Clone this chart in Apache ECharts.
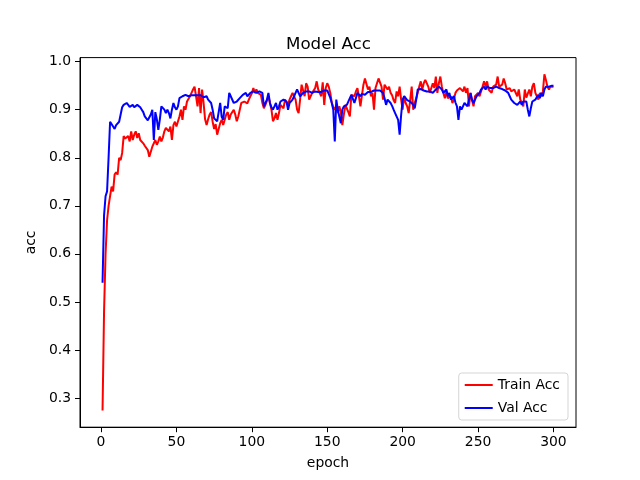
<!DOCTYPE html>
<html>
<head>
<meta charset="utf-8">
<script src="https://cdn.jsdelivr.net/npm/echarts@6/dist/echarts.min.js"></script>
<style>html,body{margin:0;padding:0;background:#fff}#c{width:640px;height:480px}</style>
</head>
<body>
<div id="c"></div>
<script>
var trainAcc = [
0.274,0.48,0.60,0.67,0.70,0.72,0.74,0.73,0.765,0.77,
0.765,0.80,0.795,0.81,0.845,0.84,0.837,0.845,0.834,0.855,
0.837,0.848,0.855,0.841,0.851,0.837,0.84,0.83,0.825,0.822,
0.816,0.802,0.806,0.823,0.827,0.837,0.827,0.834,0.844,0.834,
0.842,0.855,0.862,0.865,0.855,0.865,0.837,0.868,0.875,0.865,
0.865,0.886,0.90,0.879,0.907,0.90,0.917,0.921,0.928,0.935,
0.942,0.948,0.928,0.907,0.945,0.893,0.942,0.914,0.88,0.868,
0.88,0.89,0.895,0.875,0.86,0.87,0.848,0.86,0.872,0.879,
0.868,0.865,0.89,0.895,0.879,0.89,0.893,0.90,0.89,0.876,
0.886,0.90,0.914,0.91,0.917,0.914,0.913,0.921,0.928,0.934,
0.945,0.935,0.942,0.935,0.938,0.931,0.914,0.903,0.91,0.914,
0.928,0.931,0.90,0.876,0.882,0.893,0.879,0.893,0.91,0.914,
0.903,0.921,0.917,0.91,0.921,0.928,0.935,0.938,0.921,0.90,
0.893,0.921,0.952,0.948,0.928,0.955,0.948,0.921,0.917,0.935,
0.938,0.945,0.959,0.942,0.935,0.928,0.957,0.91,0.945,0.955,
0.948,0.935,0.915,0.905,0.90,0.91,0.893,0.907,0.895,0.868,
0.89,0.91,0.91,0.895,0.886,0.931,0.935,0.928,0.938,0.945,
0.928,0.907,0.93,0.952,0.965,0.962,0.942,0.948,0.928,0.935,
0.90,0.945,0.955,0.965,0.969,0.948,0.921,0.952,0.948,0.942,
0.948,0.935,0.93,0.92,0.914,0.938,0.928,0.948,0.921,0.90,
0.928,0.914,0.907,0.893,0.92,0.948,0.90,0.914,0.924,0.935,
0.948,0.959,0.942,0.955,0.962,0.965,0.948,0.935,0.938,0.955,
0.945,0.969,0.935,0.955,0.969,0.948,0.935,0.924,0.938,0.924,
0.921,0.928,0.914,0.921,0.935,0.94,0.942,0.945,0.948,0.938,
0.948,0.935,0.945,0.907,0.935,0.92,0.907,0.928,0.93,0.935,
0.928,0.938,0.948,0.959,0.948,0.959,0.942,0.945,0.935,0.948,
0.945,0.952,0.969,0.948,0.945,0.952,0.965,0.955,0.942,0.945,
0.945,0.938,0.935,0.942,0.938,0.928,0.942,0.921,0.915,0.907,
0.942,0.925,0.921,0.942,0.928,0.948,0.955,0.935,0.928,0.921,
0.935,0.928,0.938,0.9735,0.962,0.948,0.942,0.948,0.948,0.948
];
var valAcc = [
0.54,0.68,0.72,0.73,0.80,0.875,0.872,0.865,0.86,0.868,
0.872,0.875,0.89,0.905,0.91,0.907,0.914,0.91,0.906,0.908,
0.91,0.905,0.907,0.91,0.912,0.905,0.90,0.895,0.886,0.883,
0.878,0.875,0.89,0.90,0.837,0.895,0.88,0.858,0.88,0.907,
0.905,0.90,0.893,0.90,0.893,0.882,0.90,0.914,0.905,0.90,
0.907,0.924,0.921,0.928,0.925,0.931,0.93,0.928,0.926,0.93,
0.929,0.93,0.928,0.93,0.931,0.93,0.928,0.926,0.924,0.928,
0.921,0.917,0.914,0.90,0.882,0.88,0.876,0.895,0.914,0.885,
0.879,0.907,0.905,0.903,0.935,0.928,0.924,0.914,0.917,0.917,
0.92,0.924,0.928,0.931,0.933,0.935,0.928,0.932,0.935,0.937,
0.938,0.936,0.935,0.937,0.938,0.936,0.935,0.907,0.903,0.921,
0.935,0.914,0.905,0.90,0.907,0.914,0.90,0.907,0.917,0.914,
0.921,0.917,0.917,0.90,0.914,0.917,0.921,0.928,0.935,0.942,
0.935,0.928,0.932,0.935,0.937,0.938,0.936,0.938,0.937,0.935,
0.937,0.938,0.936,0.937,0.935,0.937,0.938,0.94,0.942,0.94,
0.936,0.925,0.914,0.90,0.834,0.921,0.90,0.886,0.872,0.90,
0.907,0.91,0.91,0.907,0.924,0.931,0.928,0.914,0.924,0.935,
0.938,0.928,0.933,0.935,0.931,0.935,0.937,0.938,0.937,0.938,
0.94,0.942,0.94,0.938,0.94,0.942,0.935,0.924,0.91,0.921,
0.917,0.914,0.908,0.90,0.893,0.889,0.879,0.848,0.889,0.921,
0.928,0.924,0.92,0.918,0.917,0.914,0.91,0.903,0.921,0.942,
0.945,0.943,0.942,0.94,0.939,0.938,0.937,0.938,0.936,0.935,
0.938,0.942,0.945,0.948,0.945,0.942,0.935,0.931,0.942,0.928,
0.935,0.921,0.917,0.928,0.915,0.907,0.879,0.907,0.90,0.907,
0.914,0.917,0.907,0.921,0.935,0.92,0.914,0.921,0.928,0.931,
0.935,0.942,0.938,0.948,0.942,0.948,0.946,0.945,0.946,0.945,
0.947,0.948,0.946,0.945,0.944,0.943,0.942,0.94,0.938,0.935,
0.928,0.921,0.917,0.914,0.912,0.91,0.914,0.917,0.91,0.917,
0.921,0.917,0.90,0.886,0.903,0.917,0.914,0.921,0.925,0.931,
0.924,0.935,0.928,0.942,0.948,0.952,0.948,0.95,0.95,0.95
];
var xTicks = [0, 50, 100, 150, 200, 250, 300];
var yTicks = [0.3, 0.4, 0.5, 0.6, 0.7, 0.8, 0.9, 1.0];

function pairs(arr) { return arr.map(function (v, i) { return [i + 1, v]; }); }

var FONT = 'DejaVu Sans';
var chart = echarts.init(document.getElementById('c'), null, { renderer: 'canvas' });
chart.setOption({
  animation: false,
  backgroundColor: '#ffffff',
  textStyle: { fontFamily: FONT },
  title: {
    text: 'Model Acc', left: 281, top: 31,
    textStyle: { fontFamily: FONT, fontSize: 16.7, fontWeight: 'normal', color: '#000' }
  },
  grid: { left: 80, right: 64, top: 57.6, bottom: 52.8, show: true, borderColor: '#000', borderWidth: 1, backgroundColor: 'transparent' },
  legend: {
    orient: 'vertical', right: 72, bottom: 60,
    icon: 'rect', itemWidth: 28, itemHeight: 2, itemGap: 7,
    padding: [4, 8, 4, 6],
    backgroundColor: 'rgba(255,255,255,0.8)', borderColor: '#d5d5d5', borderWidth: 1, borderRadius: 3,
    textStyle: { fontFamily: FONT, fontSize: 13.9, color: '#000', lineHeight: 16 },
    data: ['Train Acc', 'Val Acc']
  },
  xAxis: {
    type: 'value', min: -13.95, max: 314.95,
    name: 'epoch', nameLocation: 'middle', nameGap: 29,
    nameTextStyle: { fontFamily: FONT, fontSize: 13.9, color: '#000' },
    axisLine: { show: true, onZero: false, lineStyle: { color: '#000', width: 1 } },
    axisTick: { show: true, inside: false, length: 5, customValues: xTicks, lineStyle: { color: '#000', width: 1 } },
    axisLabel: { show: true, margin: 8, customValues: xTicks, fontFamily: FONT, fontSize: 13.9, color: '#000' },
    splitLine: { show: false }
  },
  yAxis: {
    type: 'value', min: 0.2394, max: 1.0084,
    name: 'acc', nameLocation: 'middle', nameGap: 35,
    nameTextStyle: { fontFamily: FONT, fontSize: 13.9, color: '#000' },
    axisLine: { show: true, onZero: false, lineStyle: { color: '#000', width: 1 } },
    axisTick: { show: true, inside: false, length: 5, customValues: yTicks, lineStyle: { color: '#000', width: 1 } },
    axisLabel: { show: true, margin: 9, customValues: yTicks, fontFamily: FONT, fontSize: 13.9, color: '#000',
      formatter: function (v) { return v.toFixed(1); } },
    splitLine: { show: false }
  },
  series: [
    { name: 'Train Acc', type: 'line', data: pairs(trainAcc), symbol: 'none', showSymbol: false,
      lineStyle: { color: '#ff0000', width: 2 }, itemStyle: { color: '#ff0000' } },
    { name: 'Val Acc', type: 'line', data: pairs(valAcc), symbol: 'none', showSymbol: false,
      lineStyle: { color: '#0000ff', width: 2 }, itemStyle: { color: '#0000ff' } }
  ]
});
</script>
</body>
</html>
